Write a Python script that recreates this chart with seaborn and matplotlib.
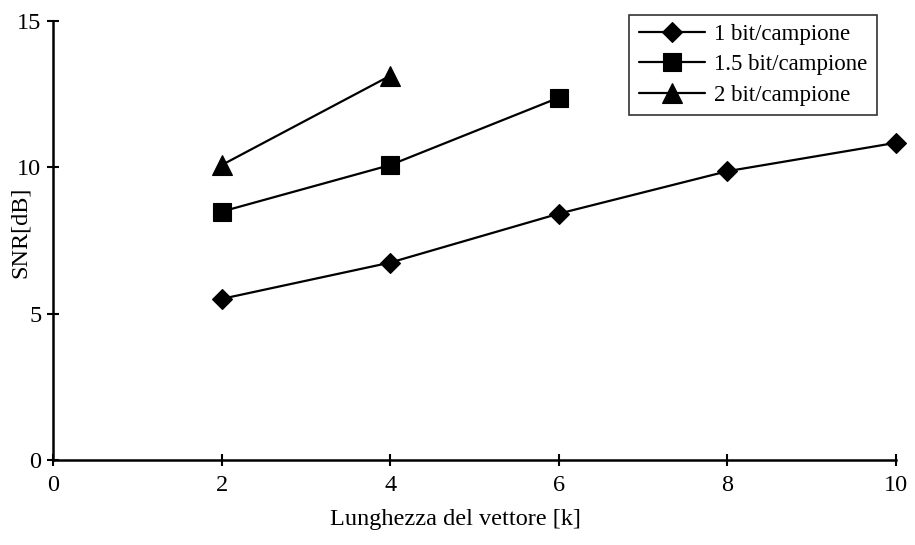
import matplotlib
matplotlib.use("Agg")
import matplotlib.pyplot as plt
import seaborn as sns
import pandas as pd

# SNR vs vector length for three bit rates
k_1bit = [2, 4, 6, 8, 10]
snr_1bit = [5.5, 6.74, 8.41, 9.86, 10.83]
k_15bit = [2, 4, 6]
snr_15bit = [8.48, 10.07, 12.37]
k_2bit = [2, 4]
snr_2bit = [10.07, 13.12]

series_names = ["1 bit/campione", "1.5 bit/campione", "2 bit/campione"]
x_ticks = [0, 2, 4, 6, 8, 10]
y_ticks = [0, 5, 10, 15]

frames = []
for name, ks, vals in zip(series_names,
                          [k_1bit, k_15bit, k_2bit],
                          [snr_1bit, snr_15bit, snr_2bit]):
    frames.append(pd.DataFrame({"k": ks, "snr": vals, "serie": name}))
df = pd.concat(frames, ignore_index=True)

sns.set_theme(style="ticks")
plt.rcParams["font.family"] = ["Liberation Serif", "DejaVu Serif"]
plt.rcParams["font.size"] = 17.5
plt.rcParams["text.color"] = "black"
plt.rcParams["axes.labelcolor"] = "black"

fig = plt.figure(figsize=(9.15, 5.45), dpi=100)
ax = fig.add_axes([0.058, 0.156, 0.921, 0.806])

styles = {
    "1 bit/campione": ("D", 10.5),
    "1.5 bit/campione": ("s", 13.5),
    "2 bit/campione": ("^", 14),
}
for name in series_names:
    mk, ms = styles[name]
    sns.lineplot(data=df[df["serie"] == name], x="k", y="snr", ax=ax,
                 color="black", lw=1.6, marker=mk, markersize=ms,
                 markeredgecolor="black", markerfacecolor="black",
                 markeredgewidth=0.8, label=name, clip_on=False)

ax.set_xlim(0, 10)
ax.set_ylim(0, 15)
ax.set_xticks(x_ticks)
ax.set_yticks(y_ticks)
ax.set_xlabel("Lunghezza del vettore [k]", fontsize=17.5)
ax.set_ylabel("SNR[dB]", fontsize=17.5)
ax.xaxis.set_label_coords(0.478, -0.136)
ax.yaxis.set_label_coords(-0.039, 0.518)
ax.yaxis.label.set_verticalalignment("center")
ax.xaxis.label.set_verticalalignment("center")

for side in ["top", "right"]:
    ax.spines[side].set_visible(False)
for side in ["left", "bottom"]:
    ax.spines[side].set_color("black")
    ax.spines[side].set_linewidth(1.8)

ax.tick_params(axis="both", which="major", bottom=True, left=True,
               direction="inout", length=9, width=1.5,
               color="black", labelcolor="black", labelsize=17.5)
ax.tick_params(axis="x", pad=6)
ax.tick_params(axis="y", pad=4)

leg = ax.legend(loc="upper right", bbox_to_anchor=(0.958, 0.9725),
                bbox_transform=fig.transFigure, frameon=True, fancybox=False,
                fontsize=16.5, handlelength=2.9, handletextpad=0.4,
                labelspacing=0.4, borderpad=0.4, borderaxespad=0)
leg.get_frame().set_edgecolor("black")
leg.get_frame().set_linewidth(1.2)
for t in leg.get_texts():
    t.set_color("black")

fig.savefig("out.png", dpi=100, facecolor="white")
